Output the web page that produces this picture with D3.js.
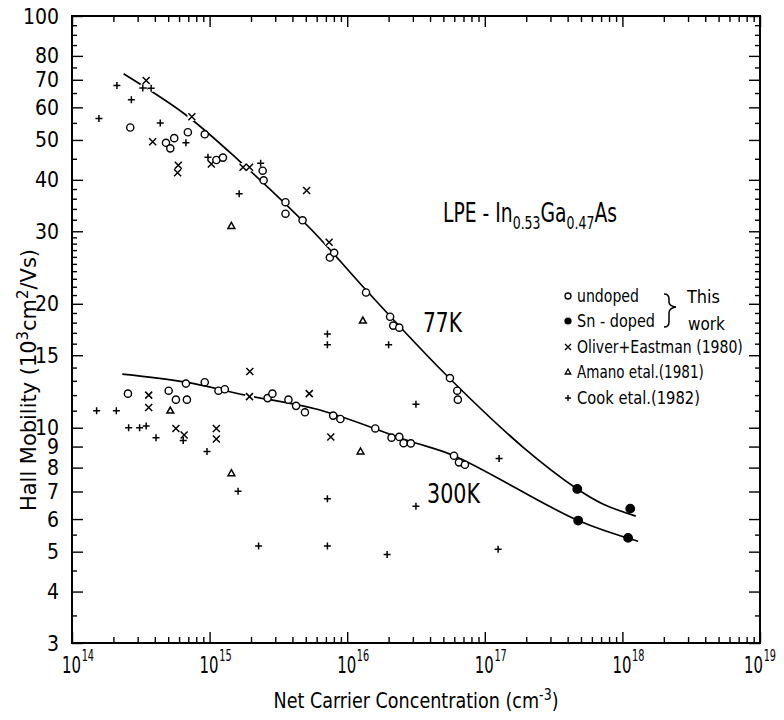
<!DOCTYPE html>
<html><head><meta charset="utf-8">
<script src="https://cdn.jsdelivr.net/npm/d3@7"></script>
<style>
body{margin:0;background:#fff}
text{font-family:"DejaVu Sans",sans-serif;fill:#000}
</style>
</head><body>
<svg id="chart" width="784" height="720"></svg>
<script>
// ---- data: [net carrier concentration (cm^-3), Hall mobility (10^3 cm^2/Vs)] ----
const undoped77 = [[2.65e14,53.6],[4.82e14,49.2],[5.18e14,47.7],[5.53e14,50.5],[6.95e14,52.2],[9.22e14,51.6],
  [1.12e15,44.7],[1.25e15,45.3],[2.43e15,42.1],[2.47e15,39.9],[3.56e15,35.3],[3.56e15,33.1],[4.74e15,31.9],
  [7.48e15,25.9],[8.04e15,26.6],[1.37e16,21.3],[2.05e16,18.6],[2.16e16,17.7],[2.39e16,17.5],
  [5.58e16,13.2],[6.30e16,12.3],[6.37e16,11.7]];
const undoped300 = [[2.55e14,12.1],[5.04e14,12.3],[5.69e14,11.7],[6.84e14,11.7],[6.73e14,12.8],[9.22e14,12.9],
  [1.16e15,12.3],[1.29e15,12.4],[2.64e15,11.8],[2.86e15,12.1],[3.74e15,11.7],[4.25e15,11.3],[4.93e15,10.9],
  [7.91e15,10.7],[8.92e15,10.5],[1.60e16,9.96],[2.10e16,9.46],[2.39e16,9.50],[2.57e16,9.17],[2.90e16,9.16],
  [5.97e16,8.55],[6.49e16,8.24],[7.17e16,8.13]];
const snDoped77 = [[4.70e17,7.10],[1.14e18,6.36]];
const snDoped300 = [[4.77e17,5.95],[1.10e18,5.40]];
const oliverEastman = [[3.46e14,69.7],[7.43e14,56.9],[3.86e14,49.5],[5.92e14,43.4],[5.85e14,41.6],[1.03e15,43.7],
  [1.75e15,42.9],[1.95e15,42.9],[5.07e15,37.7],[7.39e15,28.2],[3.61e14,12.0],[3.61e14,11.2],[1.96e15,13.7],
  [1.95e15,11.9],[5.30e15,12.1],[5.69e14,9.96],[6.53e14,9.60],[1.12e15,9.96],[1.12e15,9.39],[7.60e15,9.49]];
const amano = [[1.44e15,30.9],[1.30e16,18.2],[5.18e14,11.0],[1.44e15,7.75],[1.25e16,8.75]];
const cook = [[2.12e14,67.8],[3.27e14,66.9],[3.76e14,66.8],[2.70e14,62.6],[1.57e14,56.4],[4.38e14,55.0],
  [6.73e14,49.2],[9.73e14,45.4],[2.35e15,43.9],[1.64e15,37.0],[7.18e15,16.9],[7.18e15,15.9],[2.0e16,15.9],
  [3.16e16,11.4],[1.51e14,11.0],[2.10e14,11.0],[2.58e14,10.0],[3.10e14,10.0],[3.46e14,10.1],[4.08e14,9.46],
  [6.43e14,9.31],[9.57e14,8.75],[1.61e15,7.01],[2.27e15,5.16],[7.18e15,6.72],[7.18e15,5.16],[1.95e16,4.92],
  [3.16e16,6.45],[1.27e17,8.42],[1.25e17,5.07]];
const fit77 = [[2.37e14,72.4],[6.73e14,57.5],[1.64e15,44.5],[5.48e15,30.3],[1.37e16,21.6],[5.05e16,13.6],
  [1.91e17,8.95],[4.70e17,7.10],[7.21e17,6.53],[1.25e18,6.10]];
const fit300 = [[2.32e14,13.5],[6.73e14,12.9],[1.82e15,12.0],[6.15e15,11.07],[2.75e16,9.31],[5.97e16,8.55],
  [4.77e17,5.95],[1.30e18,5.30]];
const yMajorTicks = [3,4,5,6,7,8,9,10,15,20,30,40,50,60,70,80,100];
const yMinorTicks = [3.5,4.5,5.5,11,12,13,14,16,17,18,19,21,22,23,24,25,26,27,28,29,32,34,36,38,45,55,65,75,85,90,95];
const xMajorTicks = [1e14,1e15,1e16,1e17,1e18,1e19];
const xExponents = ["14","15","16","17","18","19"];
const legendLabels = ["undoped","Sn - doped","Oliver+Eastman (1980)","Amano etal.(1981)","Cook etal.(1982)"];
const legendWidths = [62,78,166,127,123];

// ---- layout ----
const L=72, R=760, T=16, B=643;
const svg = d3.select("#chart");
const x = d3.scaleLog().domain([1e14,1e19]).range([L,R]);
const y = d3.scaleLog().domain([3,100]).range([B,T]);
const xMinorTicks = [];
for (let e=14;e<19;e++) for (let k=2;k<=9;k++) xMinorTicks.push(k*Math.pow(10,e));

function styleAxis(g){ g.select(".domain").remove(); g.selectAll("line").attr("stroke","#000").attr("stroke-width",1.4); }

// composite text pieces, compressed horizontally (narrow lettering) to a target width
function richText(parent, px, py, parts, width, anchor, rot){
  const outer = parent.append("g").attr("transform",`translate(${px},${py}) rotate(${rot||0})`);
  const inner = outer.append("g");
  let cx = 0;
  parts.forEach(p=>{
    const t = inner.append("text").attr("x",cx).attr("y",p.dy||0).attr("font-size",p.size).text(p.t);
    cx += t.node().getComputedTextLength() + (p.gap||0);
  });
  const sx = width/cx;
  const off = anchor==="middle" ? -width/2 : (anchor==="end" ? -width : 0);
  inner.attr("transform",`translate(${off},0) scale(${sx},1)`);
  return sx;
}

// bottom axis
svg.append("g").attr("transform",`translate(0,${B})`)
  .call(d3.axisBottom(x).tickValues(xMajorTicks).tickSize(-11).tickSizeOuter(0).tickFormat(()=>"")).call(styleAxis);
svg.append("g").attr("transform",`translate(0,${B})`)
  .call(d3.axisBottom(x).tickValues(xMinorTicks).tickSize(-6).tickSizeOuter(0).tickFormat(()=>"")).call(styleAxis);
// top axis
svg.append("g").attr("transform",`translate(0,${T})`)
  .call(d3.axisTop(x).tickValues(xMajorTicks).tickSize(-11).tickSizeOuter(0).tickFormat(()=>"")).call(styleAxis);
svg.append("g").attr("transform",`translate(0,${T})`)
  .call(d3.axisTop(x).tickValues(xMinorTicks).tickSize(-6).tickSizeOuter(0).tickFormat(()=>"")).call(styleAxis);
// left axis (labels drawn by the axis, then compressed)
svg.append("g").attr("transform",`translate(${L},0)`)
  .call(d3.axisLeft(y).tickValues(yMajorTicks).tickSize(-11).tickSizeOuter(0).tickFormat(d3.format("d")).tickPadding(13))
  .call(styleAxis)
  .call(g=>g.selectAll("text").attr("font-size",22).attr("fill","#000")
     .style("font-family",'"DejaVu Sans",sans-serif')
     .attr("x",null)
     .attr("transform","translate(-13,0) scale(0.86,1)"));
svg.append("g").attr("transform",`translate(${L},0)`)
  .call(d3.axisLeft(y).tickValues(yMinorTicks).tickSize(-5).tickSizeOuter(0).tickFormat(()=>"")).call(styleAxis);
// right axis
svg.append("g").attr("transform",`translate(${R},0)`)
  .call(d3.axisRight(y).tickValues(yMajorTicks).tickSize(-11).tickSizeOuter(0).tickFormat(()=>"")).call(styleAxis);
svg.append("g").attr("transform",`translate(${R},0)`)
  .call(d3.axisRight(y).tickValues(yMinorTicks).tickSize(-5).tickSizeOuter(0).tickFormat(()=>"")).call(styleAxis);

// frame
svg.append("rect").attr("x",L).attr("y",T).attr("width",R-L).attr("height",B-T)
  .attr("fill","none").attr("stroke","#000").attr("stroke-width",2);

// x tick labels 10^n
const xl = svg.append("g");
xMajorTicks.forEach((v,i)=>{
  const shift = (i===xMajorTicks.length-1 ? 6 : 0);
  richText(xl, x(v)-10-shift, B+30, [{t:"10",size:23,gap:1},{t:xExponents[i],size:15,dy:-12}], 32, "start", 0);
});

// axis titles
richText(svg, (L+R)/2, 708, [
  {t:"Net Carrier Concentration (cm",size:21},{t:"-3",size:15,dy:-8},{t:")",size:21}], 285, "middle", 0);
richText(svg, 36, 380, [
  {t:"Hall Mobility (10",size:21},{t:"3",size:15,dy:-8},{t:"cm",size:21},{t:"2",size:15,dy:-8},{t:"/Vs)",size:21}],
  262, "middle", -90);

// fitted curves
const line = d3.line().x(d=>x(d[0])).y(d=>y(d[1])).curve(d3.curveCatmullRom.alpha(0.5));
svg.append("path").datum(fit77).attr("d",line).attr("fill","none").attr("stroke","#000").attr("stroke-width",1.7);
svg.append("path").datum(fit300).attr("d",line).attr("fill","none").attr("stroke","#000").attr("stroke-width",1.7);

// marker shapes
const crossPath = "M-3.5,-3.5L3.5,3.5M-3.5,3.5L3.5,-3.5";
const plusPath = "M-3.5,0H3.5M0,-3.5V3.5";
const triPath = "M0,-3.6L3.4,2.4H-3.4Z";
function drawHalo(data,r){ svg.append("g").selectAll("circle").data(data).join("circle")
  .attr("cx",d=>x(d[0])).attr("cy",d=>y(d[1])).attr("r",r).attr("fill","#fff"); }
drawHalo(oliverEastman,4.6); drawHalo(cook,3.8); drawHalo(amano,4.2);

function drawPath(data,p,fill){ svg.append("g").selectAll("path").data(data).join("path")
  .attr("transform",d=>`translate(${x(d[0])},${y(d[1])})`).attr("d",p)
  .attr("fill",fill).attr("stroke","#000").attr("stroke-width",1.5); }
drawPath(oliverEastman,crossPath,"none");
drawPath(cook,plusPath,"none");
drawPath(amano,triPath,"#fff");
function drawCircles(data,r,fill){ svg.append("g").selectAll("circle").data(data).join("circle")
  .attr("cx",d=>x(d[0])).attr("cy",d=>y(d[1])).attr("r",r)
  .attr("fill",fill).attr("stroke","#000").attr("stroke-width",1.4); }
drawCircles(undoped77,3.6,"#fff");
drawCircles(undoped300,3.6,"#fff");
drawCircles(snDoped77,4.2,"#000");
drawCircles(snDoped300,4.2,"#000");

// annotations
richText(svg, 443, 222, [
  {t:"LPE - In",size:27},{t:"0.53",size:18,dy:7},{t:"Ga",size:27},{t:"0.47",size:18,dy:7},{t:"As",size:27}], 174, "start", 0);
richText(svg, 423, 332, [{t:"77K",size:27}], 39, "start", 0);
richText(svg, 427, 503, [{t:"300K",size:27}], 53, "start", 0);

// legend
const lg = svg.append("g");
const rowY = [296,321,347,372,398];
legendLabels.forEach((t,i)=>{ richText(lg, 577, rowY[i]+6, [{t:t,size:18}], legendWidths[i], "start", 0); });
lg.append("circle").attr("cx",568).attr("cy",rowY[0]).attr("r",3).attr("fill","#fff").attr("stroke","#000").attr("stroke-width",1.3);
lg.append("circle").attr("cx",568).attr("cy",rowY[1]).attr("r",3.6).attr("fill","#000");
lg.append("path").attr("transform",`translate(568,${rowY[2]})`).attr("d","M-3,-3L3,3M-3,3L3,-3").attr("stroke","#000").attr("stroke-width",1.4);
lg.append("path").attr("transform",`translate(568,${rowY[3]})`).attr("d","M0,-3L2.8,2H-2.8Z").attr("fill","none").attr("stroke","#000").attr("stroke-width",1.3);
lg.append("path").attr("transform",`translate(568,${rowY[4]})`).attr("d","M-3,0H3M0,-3V3").attr("stroke","#000").attr("stroke-width",1.4);
lg.append("path").attr("d","M664,294 Q669,294 669,299 L669,302 Q669,306 676,307 Q669,308 669,313 L669,322 Q669,327 664,327")
  .attr("fill","none").attr("stroke","#000").attr("stroke-width",1.5);
richText(lg, 687, 303, [{t:"This",size:18}], 33, "start", 0);
richText(lg, 688, 330, [{t:"work",size:18}], 37, "start", 0);
</script>
</body></html>
